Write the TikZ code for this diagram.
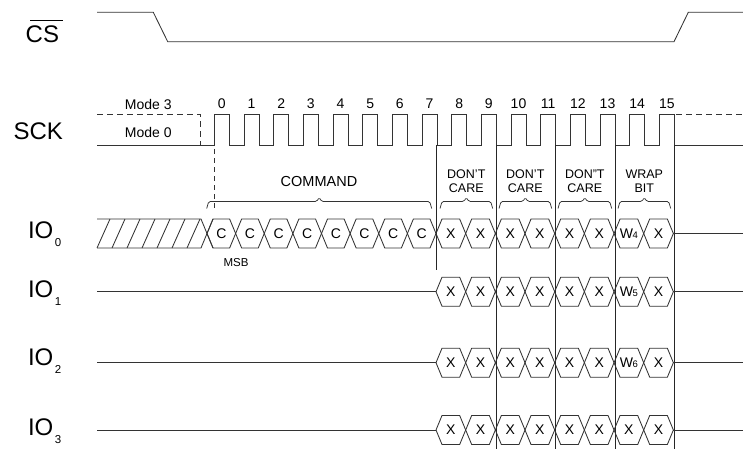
\documentclass[tikz,border=0pt]{standalone}
\usepackage{fontspec}
\setmainfont{Liberation Sans}
\begin{document}
\begin{tikzpicture}[x=1pt,y=-1pt,
  sig/.style={line width=0.85pt, black!80},
  vline/.style={line width=0.85pt, black!85},
  dsig/.style={sig, dash pattern=on 6pt off 4pt},
  big/.style={font=\fontsize{24}{28}\selectfont, inner sep=0pt},
  med/.style={font=\fontsize{14}{16}\selectfont, inner sep=0pt},
  cmd/.style={font=\fontsize{14.5}{16}\selectfont, inner sep=0pt},
  dc/.style={font=\fontsize{12.5}{14}\selectfont, inner sep=0pt, align=center},
  sml/.style={font=\fontsize{11.5}{13}\selectfont, inner sep=0pt}]
\useasboundingbox (0,0) rectangle (743,449);

% ---------- CS ----------
\draw[sig] (97,12.3) -- (153.3,12.3) -- (167.7,41.7) -- (674,41.7) -- (688.3,12.3) -- (743,12.3);
\node[big, anchor=base west] (cs) at (25.5,42.3) {CS};
\draw[line width=0.8pt] (30,20) -- (62.7,20);

% ---------- SCK ----------
\node[big, anchor=base] (sck) at (38.3,140) {SCK};
\draw[dsig] (97,114.5) -- (200,114.5) -- (200,145);
\draw[sig] (97,145)
  \foreach \k in {0,...,15}{
    -- ({214.3+29.67*\k},145) -- ({214.3+29.67*\k},114.5)
    -- ({229.3+29.67*\k},114.5) -- ({229.3+29.67*\k},145)}
  -- (743,145);
\draw[dsig] (676,114.5) -- (743,114.5);
\node[med] (mode3) at (148.3,104) {Mode 3};
\node[med] (mode0) at (148.3,132.3) {Mode 0};
\foreach \k in {0,...,15}
  \node[med] (num\k) at ({221.8+29.67*\k},104) {\k};

% dashed marker at first rising edge
\draw[sig, dash pattern=on 5pt off 4pt] (214.3,149) -- (214.3,211);

% vertical boundary lines
\draw[vline] (436,145) -- (436,270);
\foreach \k in {9,11,13,15}
  \draw[vline] ({229.3+29.67*\k},145) -- ({229.3+29.67*\k},449);

% ---------- braces ----------
\foreach \xa/\xb in {206.7/431.7, 440/492.7, 499/551.7, 558/611.7, 618/670.7}{
  \pgfmathsetmacro\xm{(\xa+\xb)/2}
  \draw[sig, line width=0.75pt, rounded corners=1.5pt]
    (\xa,208.5) -- (\xa+2,201.5) -- (\xm-2.5,201.5) -- (\xm,197.5)
    -- (\xm+2.5,201.5) -- (\xb-2,201.5) -- (\xb,208.5);
}
\node[cmd] (command) at (319,181.5) {COMMAND};
\node[dc] (dc1) at (466.3,181.3) {DON'T\\CARE};
\node[dc] (dc2) at (525.3,181.3) {DON'T\\CARE};
\node[dc] (dc3) at (584.8,181.3) {DON"T\\CARE};
\node[dc] (wrap) at (644.3,181.3) {WRAP\\BIT};

% ---------- IO labels ----------
\foreach \i/\yb in {0/238.3, 1/297, 2/365.5, 3/435}{
  \node[big, anchor=base west] (io\i) at (27.8,\yb)
    {IO\hspace{1.5pt}\raisebox{-8.4pt}{\fontsize{11.5}{12}\selectfont\i}};
}
\node[sml] (msb) at (236,262.7) {MSB};

% ---------- IO0 ----------
\def\ym{233.5}
\draw[sig] (97,219) -- (201,219) -- (213,248);
\draw[sig] (97,248) -- (201,248) -- (213,219);
\foreach \s in {0,...,6}
  \draw[sig] ({97+15*\s},248) -- ({110+15*\s},219);
\foreach \j in {0,...,7}{
  \pgfmathsetmacro\xa{207+28.625*\j}
  \pgfmathsetmacro\xb{207+28.625*(\j+1)}
  \draw[sig] (\xa,\ym) -- (\xa+6,\ym-14.5) -- (\xb-6,\ym-14.5) -- (\xb,\ym)
    -- (\xb-6,\ym+14.5) -- (\xa+6,\ym+14.5) -- cycle;
  \node[med] (cbit\j) at ({(\xa+\xb)/2},\ym) {C};
}

% ---------- X cells for all rows ----------
\foreach \r/\ym/\w in {0/233.5/4, 1/291.7/5, 2/362.7/6, 3/430/X}{
  \ifnum\r>0
    \draw[sig] (97,\ym) -- (436,\ym);
  \fi
  \draw[sig] (673.4,\ym) -- (743,\ym);
  \foreach \j in {0,...,7}{
    \pgfmathsetmacro\xa{436+29.67*\j}
    \pgfmathsetmacro\xb{436+29.67*(\j+1)}
    \draw[sig] (\xa,\ym) -- (\xa+6,\ym-14.5) -- (\xb-6,\ym-14.5) -- (\xb,\ym)
      -- (\xb-6,\ym+14.5) -- (\xa+6,\ym+14.5) -- cycle;
  }
  \foreach \j in {0,...,5,7}
    \node[med] (x\r\j) at ({436+29.67*(\j+0.5)},\ym) {X};
  \if X\w
    \node[med] (x\r6) at ({436+29.67*6.5},\ym) {X};
  \else
    \node[med] (x\r6) at ({436+29.67*6.5},\ym)
      {W\kern-0.3pt{\fontsize{9.5}{10}\selectfont\w}};
  \fi
}
\end{tikzpicture}
\end{document}
